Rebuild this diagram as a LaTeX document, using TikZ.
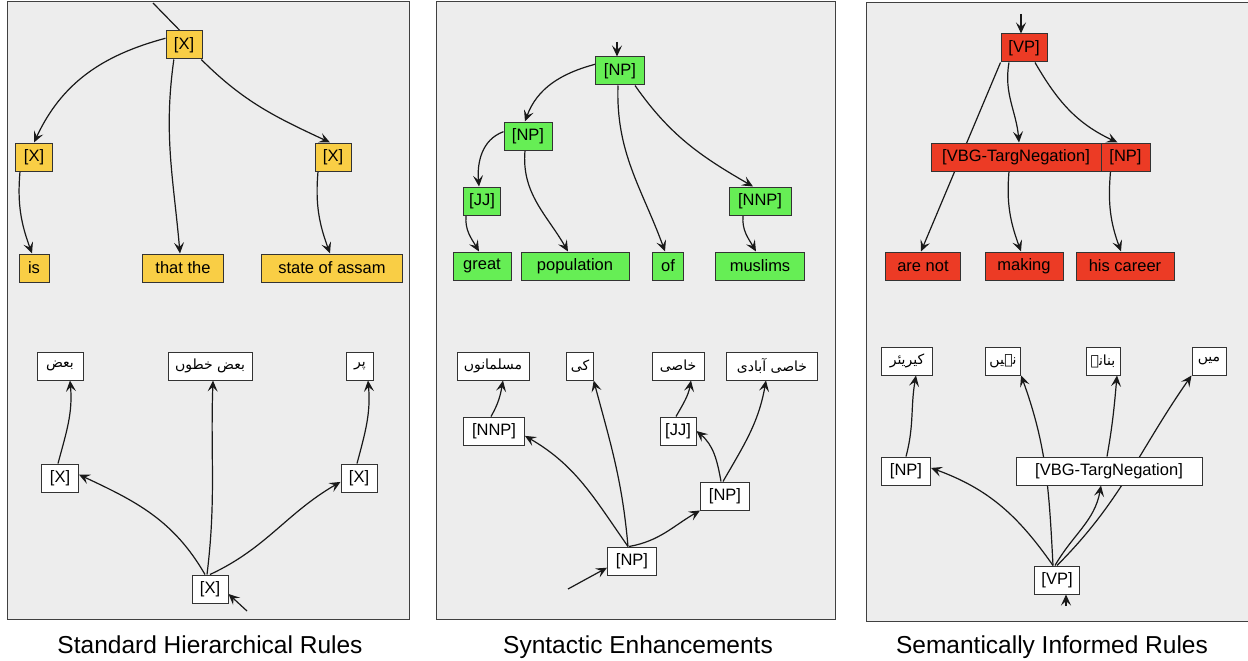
\documentclass[tikz,border=0pt]{standalone}
\usepackage{fontspec}
\setmainfont{Liberation Sans}
\newfontfamily\urdufont[Script=Arabic]{DejaVu Sans}
\TeXXeTstate=1
\usetikzlibrary{arrows.meta}
\definecolor{panelgray}{HTML}{EDEDED}
\definecolor{xyellow}{HTML}{F9CE45}
\definecolor{npgreen}{HTML}{66EE55}
\definecolor{vpred}{HTML}{EC3B25}
\newcommand{\urw}[1]{\beginR#1\endR}
\pgfdeclarelayer{panel}
\pgfdeclarelayer{edges}
\pgfsetlayers{panel,edges,main}
\begin{document}
\begin{tikzpicture}[x=1pt,y=-1pt,
		lbl/.style={draw=black!80, line width=1pt, minimum height=28pt, inner xsep=4pt, inner ysep=0pt, font=\fontsize{16.5}{16.5}\selectfont},
		ybox/.style={lbl, fill=xyellow},
		gbox/.style={lbl, fill=npgreen},
		rbox/.style={lbl, fill=vpred},
		wbox/.style={lbl, fill=white},
		ubox/.style={lbl, fill=white, font=\fontsize{14}{14}\selectfont\urdufont},
		link/.style={black!90, line width=1.2pt, -{Stealth[length=11pt,width=10pt,inset=4.5pt]}},
		caption/.style={anchor=base, font=\fontsize{24.5}{24.5}\selectfont}]
	\useasboundingbox (0,0) rectangle (1248,661);

	\begin{pgfonlayer}{panel}
		\fill[white] (0,0) rectangle (1248,661);
		\draw[black!75, line width=1pt, fill=panelgray] (7,2) rectangle (409,619);
		\draw[black!75, line width=1pt, fill=panelgray] (436,2) rectangle (835,619);
		\draw[black!75, line width=1pt, fill=panelgray] (866,3) rectangle (1252,621);
	\end{pgfonlayer}

	\node[ybox, minimum width=36pt] (xtop) at (184,45) {[X]};
	\node[ybox, minimum width=37pt] (xleft) at (34,157) {[X]};
	\node[ybox, minimum width=36pt] (xright) at (333,157) {[X]};
	\node[ybox, minimum width=30pt] (is) at (34,268) {is};
	\node[ybox, minimum width=81pt] (thatthe) at (183,268) {that the};
	\node[ybox, minimum width=141pt] (assam) at (332,268) {state of assam};
	\node[ubox, minimum width=46pt] (baz) at (60,366) {\urw{بعض}};
	\node[ubox, minimum width=84pt] (khitton) at (210,366) {\urw{بعض خطوں}};
	\node[ubox, minimum width=27pt] (par) at (360,366) {\urw{پر}};
	\node[wbox, minimum width=37pt] (uxleft) at (60,478) {[X]};
	\node[wbox, minimum width=36pt] (uxright) at (359,478) {[X]};
	\node[wbox, minimum width=36pt] (uxroot) at (210,589) {[X]};
	\coordinate (xin) at (153,3);
	\coordinate (uxin) at (247,611);

	\node[gbox, minimum width=49pt] (nproot) at (620,71) {[NP]};
	\node[gbox, minimum width=48pt] (npleft) at (528,136) {[NP]};
	\node[gbox, minimum width=37pt] (jj) at (482,201) {[JJ]};
	\node[gbox, minimum width=62pt] (nnp) at (760,201) {[NNP]};
	\node[gbox, minimum width=58pt] (great) at (482,266) {great};
	\node[gbox, minimum width=108pt] (population) at (575,266) {population};
	\node[gbox, minimum width=31pt] (of) at (668,266) {of};
	\node[gbox, minimum width=89pt] (muslims) at (760,266) {muslims};
	\node[ubox, minimum width=72pt] (musalmanon) at (493,366) {\urw{مسلمانوں}};
	\node[ubox, minimum width=17pt] (ki) at (580,366) {\urw{کی}};
	\node[ubox, minimum width=52pt] (khasi) at (678,366) {\urw{خاصی}};
	\node[ubox, minimum width=91pt] (abadi) at (772,366) {\urw{خاصی آبادی}};
	\node[wbox, minimum width=61pt] (unnp) at (494,431) {[NNP]};
	\node[wbox, minimum width=36pt] (ujj) at (678,431) {[JJ]};
	\node[wbox, minimum width=49pt] (unp) at (725,496) {[NP]};
	\node[wbox, minimum width=49pt] (unproot) at (632,561) {[NP]};
	\coordinate (npin) at (617,42);
	\coordinate (unpin) at (568,589);

	\node[rbox, minimum width=46pt] (vproot) at (1024,48) {[VP]};
	\node[rbox, minimum width=170pt] (vbg) at (1016,157) {[VBG-TargNegation]};
	\node[rbox, minimum width=49pt] (np) at (1125.5,157) {[NP]};
	\node[rbox, minimum width=75pt] (arenot) at (923,266) {are not};
	\node[rbox, minimum width=78pt] (making) at (1024,266) {making};
	\node[rbox, minimum width=98pt] (career) at (1125,266) {his career};
	\node[ubox, minimum width=51pt] (kariyar) at (907,361) {\urw{کیریئر}};
	\node[ubox, minimum width=29pt] (nahin) at (1003,361) {\urw{نہیں}};
	\node[ubox, minimum width=34pt] (banane) at (1103,361) {\urw{بنانے}};
	\node[ubox, minimum width=34pt] (mein) at (1209,361) {\urw{میں}};
	\node[wbox, minimum width=49pt] (unp3) at (906,471) {[NP]};
	\node[wbox, minimum width=186pt] (uvbg) at (1109,471) {[VBG-TargNegation]};
	\node[wbox, minimum width=45pt] (uvp) at (1057,580) {[VP]};
	\coordinate (vpin) at (1021,14);
	\coordinate (uvpin) at (1066,606);

	\node[caption] (cap1) at (210,653) {Standard Hierarchical Rules};
	\node[caption] (cap2) at (638,653) {Syntactic Enhancements};
	\node[caption] (cap3) at (1052,653) {Semantically Informed Rules};

	\begin{pgfonlayer}{edges}
		\draw[black!90, line width=1.2pt] (xin) -- (xtop.106);
		\draw[link] (xtop.160) to[out=195, in=65] (xleft.north);
		\draw[link] (xtop.235) to[out=262, in=95] ([xshift=-3pt]thatthe.north);
		\draw[link] (xtop.-40) to[out=-45, in=155] ([xshift=-3pt]xright.north);
		\draw[link] ([xshift=-14pt]xleft.south) to[out=265, in=110] ([xshift=-2pt]is.north);
		\draw[link] ([xshift=-15pt]xright.south) to[out=265, in=110] ([xshift=-2pt]assam.north);
		\draw[link] ([xshift=-5pt]uxroot.north) to[out=120, in=-25] (uxleft.10);
		\draw[link] ([xshift=-3pt]uxroot.north) to[out=83, in=-92] ([xshift=3pt]khitton.south);
		\draw[link] (uxroot.north) to[out=25, in=-150] (uxright.192);
		\draw[link] ([xshift=-2pt]uxleft.north) to[out=75, in=-85] ([xshift=10pt]baz.south);
		\draw[link] ([xshift=-2pt]uxright.north) to[out=75, in=-85] ([xshift=8pt]par.south);
		\draw[link] (uxin) -- (uxroot.-15);

		\draw[link] (npin) -- (npin |- nproot.north);
		\draw[link] (nproot.165) to[out=195, in=70] ([xshift=-3pt]npleft.north);
		\draw[link] ([xshift=-2pt]nproot.south) to[out=268, in=110] ([xshift=-3pt]of.north);
		\draw[link] ([xshift=15pt]nproot.south) to[out=-55, in=150] ([xshift=-7pt]nnp.north);
		\draw[link] (npleft.170) to[out=200, in=95] ([xshift=-3pt]jj.north);
		\draw[link] ([xshift=-3pt]npleft.south) to[out=265, in=120] ([xshift=-7pt]population.north);
		\draw[link] ([xshift=-16pt]jj.south) to[out=265, in=120] ([xshift=-3pt]great.north);
		\draw[link] ([xshift=-17pt]nnp.south) to[out=265, in=120] ([xshift=-4pt]muslims.north);
		\draw[link] (unpin) -- (unproot.195);
		\draw[link] ([xshift=-4pt]unproot.north) to[out=125, in=-30] (unnp.-9);
		\draw[link] ([xshift=-4pt]unproot.north) to[out=95, in=-75] (ki.south east);
		\draw[link] ([xshift=-3pt]unproot.north) to[out=10, in=-150] (unp.south west);
		\draw[link] ([xshift=-4pt]unp.north) to[out=100, in=-40] (ujj.east);
		\draw[link] ([xshift=-2pt]unp.north) to[out=60, in=-100] ([xshift=-6pt]abadi.south);
		\draw[link] ([xshift=-2pt]ujj.north) to[out=60, in=-100] ([xshift=13pt]khasi.south);
		\draw[link] ([xshift=-3pt]unnp.north) to[out=60, in=-100] ([xshift=10pt]musalmanon.south);

		\draw[link] (vpin) -- (vpin |- vproot.north);
		\draw[link] (vproot.south west) -- ([xshift=-2pt]arenot.north);
		\draw[link] ([xshift=-15pt]vproot.south) to[out=260, in=95] ([xshift=3pt]vbg.north);
		\draw[link] ([xshift=11pt]vproot.south) to[out=-60, in=155] ([xshift=-8pt]np.north);
		\draw[link] ([xshift=-7pt]vbg.south) to[out=265, in=110] ([xshift=-3pt]making.north);
		\draw[link] ([xshift=-15pt]np.south) to[out=265, in=110] ([xshift=-4pt]career.north);
		\draw[link] (uvpin) -- (uvpin |- uvp.south);
		\draw[link] ([xshift=-4pt]uvp.north) to[out=125, in=-20] (unp3.7);
		\draw[link] ([xshift=-4pt]uvp.north) to[out=93, in=-70] (nahin.south east);
		\draw[link] ([xshift=-2pt]uvp.north) to[out=60, in=-100] ([xshift=-8pt]uvbg.south);
		\draw[link] (uvp.north) to[out=45, in=-125] (mein.south west);
		\draw[link] ([xshift=-2pt]uvbg.north) to[out=80, in=-95] ([xshift=14pt]banane.south);
		\draw[link] (unp3.north) to[out=75, in=-100] ([xshift=9pt]kariyar.south);
	\end{pgfonlayer}
\end{tikzpicture}
\end{document}
